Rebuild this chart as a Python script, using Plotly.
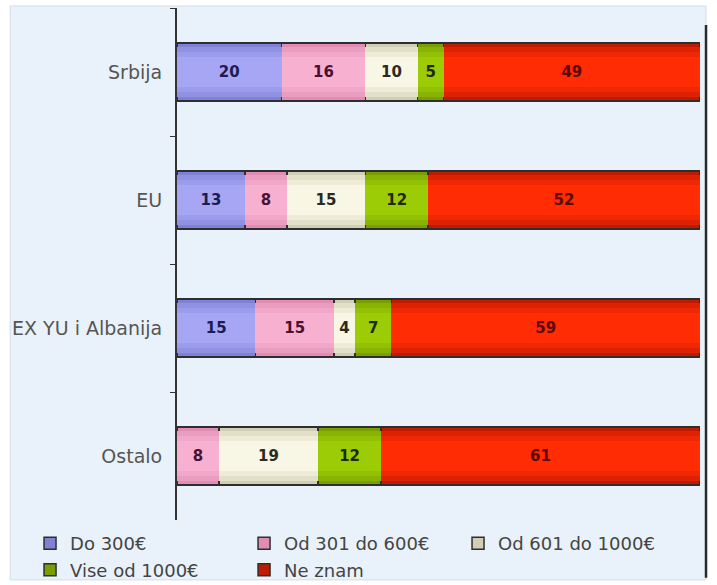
import plotly.graph_objects as go

# Regions (top to bottom) and income bands
regions = ["Srbija", "EU", "EX YU i Albanija", "Ostalo"]
bands = ["Do 300€", "Od 301 do 600€", "Od 601 do 1000€", "Vise od 1000€", "Ne znam"]

# Share of respondents (%) per band, one list per band, in region order
do_300 = [20, 13, 15, None]
od_301_600 = [16, 8, 15, 8]
od_601_1000 = [10, 15, 4, 19]
vise_1000 = [5, 12, 7, 12]
ne_znam = [49, 52, 59, 61]
values = [do_300, od_301_600, od_601_1000, vise_1000, ne_znam]

# Edge and centre colour per band; intermediate layers blend between them
edge_colors = ["#8080d6", "#e08cb4", "#d2ceb4", "#7a9e00", "#c01a00"]
centre_colors = ["#a6a6f4", "#f7b0d0", "#f8f6e4", "#9ccc06", "#ff2c04"]
label_colors = ["#1c1c50", "#4a1030", "#2a2a20", "#1e2a00", "#5a0800"]


def blend(c1, c2, t):
    a = [int(c1[i:i + 2], 16) for i in (1, 3, 5)]
    b = [int(c2[i:i + 2], 16) for i in (1, 3, 5)]
    return "#" + "".join(f"{round(x + (y - x) * t):02x}" for x, y in zip(a, b))


FONT = "DejaVu Sans"
fig = go.Figure()

# stacked layers of decreasing thickness, each on its own overlaid axis
layers = [("y", 0.45, 0.0), ("y2", 0.39, 0.45), ("y3", 0.32, 0.75), ("y4", 0.24, 1.0)]
for li, (axis, width, t) in enumerate(layers):
    top = li == len(layers) - 1
    for bi, (band, vals) in enumerate(zip(bands, values)):
        fig.add_trace(go.Bar(
            x=vals,
            y=regions,
            orientation="h",
            name=band,
            yaxis=axis,
            width=width,
            marker=dict(
                color=blend(edge_colors[bi], centre_colors[bi], t),
                line=dict(color="#2e2e2e", width=1.5) if li == 0 else dict(width=0),
            ),
            showlegend=(li == 0),
            legendrank=bi,
            text=vals if top else None,
            texttemplate="<b>%{x}</b>" if top else None,
            textposition="inside" if top else "none",
            insidetextanchor="middle",
            textfont=dict(family=FONT, size=15, color=label_colors[bi]),
            hoverinfo="skip" if not top else None,
        ))

cat_axis = dict(
    type="category",
    categoryorder="array",
    categoryarray=regions,
    range=[3.5, -0.5],
)

fig.update_layout(
    width=717,
    height=585,
    barmode="stack",
    margin=dict(l=177, r=17, t=8, b=65, autoexpand=False),
    paper_bgcolor="white",
    plot_bgcolor="rgba(0,0,0,0)",
    font=dict(family=FONT, size=19, color="#555555"),
    xaxis=dict(range=[0, 100], visible=False, fixedrange=True),
    yaxis=dict(
        **cat_axis,
        showline=True,
        linecolor="#333333",
        linewidth=2,
        ticks="outside",
        tickson="boundaries",
        ticklen=5,
        tickcolor="#333333",
        tickfont=dict(family=FONT, size=19, color="#555555"),
        ticklabelstandoff=9,
        showgrid=False,
        zeroline=False,
    ),
    yaxis2=dict(**cat_axis, overlaying="y", visible=False),
    yaxis3=dict(**cat_axis, overlaying="y", visible=False),
    yaxis4=dict(**cat_axis, overlaying="y", visible=False),
    legend=dict(
        orientation="h",
        x=-0.281,
        xanchor="left",
        y=-0.01,
        yanchor="top",
        entrywidth=169,
        entrywidthmode="pixels",
        font=dict(family=FONT, size=18, color="#444444"),
        bgcolor="rgba(0,0,0,0)",
        traceorder="normal",
        tracegroupgap=0,
    ),
    shapes=[
        # light panel behind the chart
        dict(type="rect", xref="paper", yref="paper",
             x0=-0.319, x1=1.0115, y0=-0.117, y1=1.004,
             fillcolor="#e9f2fa", line=dict(color="#d4dde6", width=1),
             layer="below"),
        # darker right edge of the panel
        dict(type="line", xref="paper", yref="paper",
             x0=1.0115, x1=1.0115, y0=-0.113, y1=0.967,
             line=dict(color="#2a2a2a", width=2.5)),
    ],
)

fig.write_html("out.html")
